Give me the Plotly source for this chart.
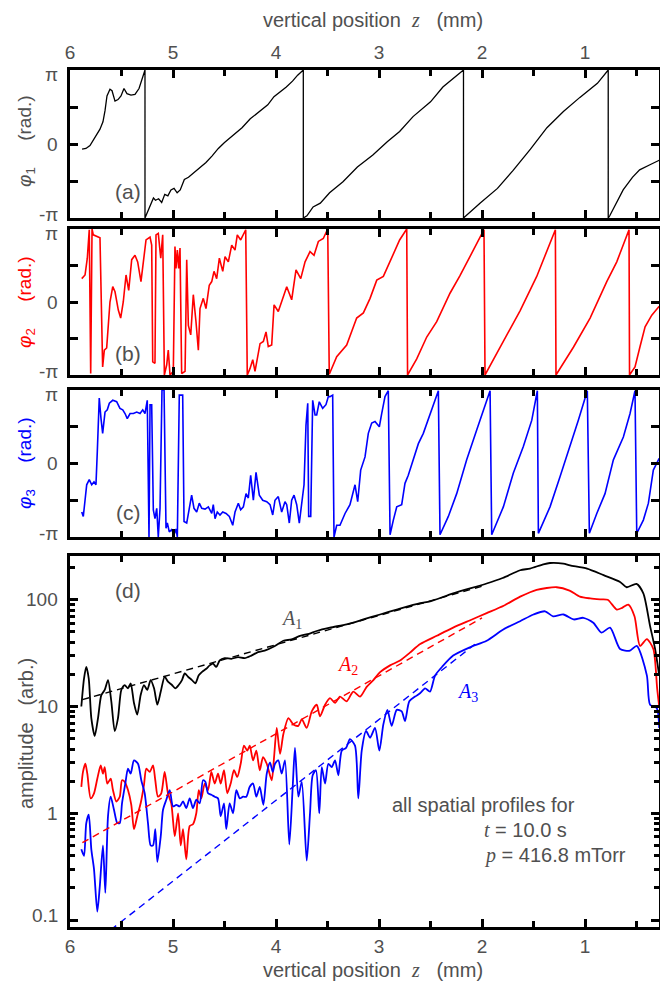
import numpy as np
import plotly.graph_objects as go

# ---------------- data (z in mm, phase in units of pi, amplitude in arb.) ----------------
phi1_pts = [
    (5.883, -0.07), (5.845, -0.06), (5.806, -0.02), (5.757, 0.10), (5.709, 0.20), (5.680, 0.30),
    (5.660, 0.45), (5.641, 0.65), (5.612, 0.74), (5.592, 0.72), (5.563, 0.58), (5.534, 0.60),
    (5.505, 0.65), (5.476, 0.75), (5.447, 0.68), (5.408, 0.66), (5.369, 0.67), (5.330, 0.75),
    (5.272, 1.00),
    (5.272, -1.00), (5.25, -0.93), (5.22, -0.82), (5.19, -0.73), (5.17, -0.76), (5.14, -0.74),
    (5.11, -0.79), (5.08, -0.68), (5.05, -0.70), (5.02, -0.62), (4.99, -0.60), (4.96, -0.66),
    (4.93, -0.62), (4.89, -0.48), (4.85, -0.45), (4.79, -0.38), (4.74, -0.33), (4.68, -0.25),
    (4.62, -0.16), (4.56, -0.06), (4.50, 0.02), (4.45, 0.08), (4.40, 0.14), (4.33, 0.22),
    (4.25, 0.34), (4.19, 0.41), (4.14, 0.47), (4.08, 0.53), (4.02, 0.64), (3.96, 0.70),
    (3.90, 0.77), (3.84, 0.85), (3.79, 0.93), (3.735, 1.00),
    (3.735, -1.00), (3.70, -0.97), (3.64, -0.85), (3.57, -0.80), (3.48, -0.66), (3.35, -0.51),
    (3.21, -0.31), (3.06, -0.15), (2.92, 0.03), (2.80, 0.17), (2.67, 0.37), (2.50, 0.57),
    (2.38, 0.77), (2.18, 1.00),
    (2.18, -1.00), (2.02, -0.80), (1.85, -0.60), (1.70, -0.36), (1.53, -0.07), (1.37, 0.22),
    (1.21, 0.44), (1.05, 0.63), (0.88, 0.82), (0.775, 1.00),
    (0.775, -1.00), (0.76, -0.97), (0.63, -0.62), (0.54, -0.45), (0.47, -0.35), (0.37, -0.28),
    (0.28, -0.22),
]

phi2_pts = [
    (5.886, 0.32), (5.854, 0.37), (5.832, 0.60), (5.813, 0.99), (5.799, -0.98), (5.786, 1.00),
    (5.774, 0.92), (5.709, 0.88), (5.683, -0.89), (5.667, -0.66), (5.644, -0.63), (5.612, 0.00),
    (5.585, 0.21), (5.563, 0.14), (5.531, -0.11), (5.508, -0.22), (5.483, 0.00), (5.456, 0.37),
    (5.430, 0.16), (5.401, 0.58), (5.369, 0.64), (5.343, 0.55), (5.311, 0.28), (5.288, 0.55),
    (5.262, 0.85), (5.223, 0.89), (5.207, 0.78), (5.197, -0.82), (5.175, -0.84), (5.165, 0.92),
    (5.143, 0.94), (5.119, 0.60), (5.100, 0.92), (5.084, -1.00), (5.061, -0.86), (5.046, -0.66),
    (5.029, -1.00), (4.997, -0.95), (4.981, 0.76), (4.971, 0.46), (4.958, 0.71), (4.945, 0.46),
    (4.932, 0.74), (4.916, -0.98), (4.883, -0.95), (4.867, 0.58), (4.851, -0.32), (4.828, -0.45),
    (4.803, 0.10), (4.777, -0.27), (4.754, -0.66), (4.738, -0.09), (4.706, 0.05), (4.680, -0.09),
    (4.648, 0.23), (4.624, 0.28), (4.602, 0.42), (4.576, 0.32), (4.550, 0.60), (4.517, 0.42),
    (4.495, 0.62), (4.463, 0.55), (4.430, 0.78), (4.398, 0.71), (4.376, 0.92), (4.343, 0.85),
    (4.294, 0.99), (4.279, -1.00), (4.252, -0.91), (4.226, -0.79), (4.204, -0.95), (4.155, -0.57),
    (4.123, -0.54), (4.097, -0.41), (4.075, -0.61), (4.042, -0.59), (4.019, -0.04), (3.978, -0.13),
    (3.945, 0.00), (3.896, 0.21), (3.848, 0.03), (3.806, 0.44), (3.760, 0.32), (3.718, 0.55),
    (3.670, 0.69), (3.631, 0.64), (3.589, 0.83), (3.541, 0.87), (3.498, 1.00), (3.483, -0.99),
    (3.411, -0.75), (3.314, -0.59), (3.217, -0.22), (3.152, -0.15), (3.087, 0.05), (3.022, 0.30),
    (2.958, 0.35), (2.893, 0.55), (2.80, 0.85), (2.731, 1.00), (2.723, -1.00), (2.634, -0.78),
    (2.537, -0.48), (2.440, -0.27), (2.311, 0.12), (2.214, 0.36), (2.117, 0.62), (1.981, 0.99),
    (1.971, -1.00), (1.793, -0.55), (1.631, -0.12), (1.469, 0.35), (1.288, 0.99), (1.282, -1.00),
    (1.113, -0.62), (0.951, -0.22), (0.789, 0.28), (0.692, 0.55), (0.595, 0.90), (0.573, 0.99),
    (0.568, -1.00), (0.515, -0.89), (0.466, -0.61), (0.417, -0.34), (0.352, -0.18), (0.28, -0.06),
]

phi3_pts = [
    (5.886, -0.66), (5.871, -0.72), (5.854, -0.50), (5.838, -0.29), (5.813, -0.22), (5.789, -0.29),
    (5.767, -0.25), (5.748, -0.29), (5.735, 0.16), (5.716, 0.89), (5.699, 0.61), (5.683, 0.41),
    (5.660, 0.70), (5.638, 0.73), (5.618, 0.82), (5.585, 0.86), (5.547, 0.84), (5.515, 0.75),
    (5.488, 0.73), (5.466, 0.68), (5.444, 0.61), (5.417, 0.68), (5.385, 0.68), (5.352, 0.70),
    (5.320, 0.68), (5.294, 0.73), (5.272, 0.68), (5.250, 0.86), (5.233, -1.00), (5.223, 0.80),
    (5.207, 0.80), (5.191, -0.63), (5.175, -0.75), (5.158, -0.61), (5.143, -1.00), (5.126, -0.61),
    (5.107, 1.00), (5.087, 1.00), (5.068, -0.88), (5.055, -0.81), (5.036, -0.93), (5.013, -0.90),
    (4.990, -0.97), (4.971, -0.89), (4.958, -1.00), (4.939, 0.93), (4.906, 0.93), (4.893, -0.79),
    (4.867, -0.81), (4.842, -0.63), (4.819, -0.43), (4.796, -0.61), (4.770, -0.66), (4.745, -0.54),
    (4.721, -0.61), (4.689, -0.62), (4.657, -0.59), (4.624, -0.68), (4.609, -0.56), (4.592, -0.75),
    (4.570, -0.66), (4.544, -0.70), (4.517, -0.66), (4.485, -0.68), (4.453, -0.72), (4.420, -0.84),
    (4.398, -0.66), (4.366, -0.54), (4.343, -0.63), (4.317, -0.59), (4.291, -0.41), (4.269, -0.47),
    (4.246, -0.16), (4.220, -0.50), (4.194, -0.12), (4.162, -0.43), (4.129, -0.50), (4.090, -0.52),
    (4.058, -0.56), (4.032, -0.70), (4.010, -0.50), (3.978, -0.45), (3.945, -0.66), (3.913, -0.52),
    (3.896, -0.56), (3.871, -0.81), (3.848, -0.50), (3.825, -0.43), (3.799, -0.56), (3.774, -0.81),
    (3.750, -0.50), (3.728, -0.29), (3.709, 0.52), (3.692, 0.82), (3.683, -0.72), (3.663, -0.72),
    (3.644, 0.86), (3.621, 0.66), (3.605, 0.66), (3.580, 0.84), (3.547, 0.75), (3.515, 0.80),
    (3.492, 0.91), (3.476, 0.91), (3.450, 0.93), (3.437, -1.00), (3.411, -0.84), (3.379, -0.84),
    (3.330, -0.68), (3.282, -0.56), (3.233, -0.29), (3.207, -0.52), (3.178, -0.09), (3.136, 0.09),
    (3.104, 0.41), (3.071, 0.55), (3.039, 0.57), (2.997, 0.50), (2.974, 0.68), (2.942, 0.91),
    (2.910, 0.99), (2.893, -0.97), (2.861, -0.77), (2.828, -0.59), (2.780, -0.56), (2.748, -0.27),
    (2.716, -0.16), (2.667, 0.05), (2.618, 0.27), (2.570, 0.41), (2.505, 0.66), (2.447, 0.91),
    (2.424, 0.99), (2.408, -0.97), (2.327, -0.72), (2.246, -0.41), (2.149, 0.05), (2.051, 0.46),
    (1.971, 0.77), (1.922, 0.99), (1.906, -0.97), (1.793, -0.59), (1.696, -0.13), (1.599, 0.23),
    (1.517, 0.59), (1.463, 0.99), (1.453, -0.95), (1.340, -0.59), (1.243, -0.18), (1.146, 0.23),
    (1.065, 0.59), (0.978, 0.99), (0.958, -0.95), (0.886, -0.68), (0.806, -0.41), (0.725, 0.05),
    (0.628, 0.36), (0.563, 0.68), (0.515, 0.99), (0.498, -0.95), (0.434, -0.77), (0.385, -0.54),
    (0.337, -0.09), (0.28, 0.07),
]

A1_pts = [
    (5.890, 10.0), (5.864, 18.3), (5.842, 23.5), (5.818, 18.3), (5.793, 7.8), (5.760, 5.3),
    (5.728, 7.8), (5.696, 12.8), (5.663, 14.3), (5.631, 17.7), (5.599, 11.2), (5.566, 5.9),
    (5.534, 7.8), (5.502, 14.3), (5.469, 15.9), (5.437, 14.8), (5.411, 16.5), (5.379, 10.8),
    (5.347, 8.4), (5.314, 12.8), (5.282, 15.9), (5.250, 14.3), (5.217, 17.7), (5.184, 14.8),
    (5.152, 10.4), (5.119, 13.8), (5.081, 19.0), (5.049, 17.1), (5.010, 15.9), (4.978, 14.8),
    (4.945, 15.9), (4.913, 17.7), (4.886, 20.4), (4.854, 19.0), (4.816, 17.7), (4.783, 16.5),
    (4.750, 19.6), (4.718, 21.1), (4.677, 22.6), (4.644, 24.3), (4.612, 25.2), (4.580, 23.5),
    (4.547, 27.0), (4.498, 28.4), (4.434, 28.0), (4.369, 29.0), (4.304, 28.4), (4.240, 30.0),
    (4.175, 32.3), (4.110, 33.4), (4.02, 36.5), (3.929, 41.3), (3.85, 42.5), (3.767, 45.9),
    (3.68, 48.0), (3.605, 51.0), (3.476, 54.8), (3.314, 58.9), (3.152, 65.4), (2.990, 72.8),
    (2.828, 80.9), (2.60, 93.0), (2.505, 96.5), (2.28, 115), (1.955, 142), (1.80, 160),
    (1.63, 189), (1.534, 196), (1.405, 215), (1.34, 221), (1.211, 218), (1.146, 210),
    (0.98, 196), (0.82, 170), (0.66, 147), (0.595, 131), (0.50, 141), (0.434, 115),
    (0.369, 57), (0.32, 34.6), (0.28, 19.6),
]

A2_pts = [
    (5.890, 1.77), (5.874, 2.44), (5.851, 2.91), (5.832, 2.35), (5.799, 1.38), (5.767, 1.54),
    (5.735, 2.11), (5.702, 2.81), (5.680, 2.35), (5.663, 2.71), (5.638, 1.90), (5.605, 2.11),
    (5.583, 1.65), (5.550, 1.29), (5.517, 1.43), (5.495, 2.04), (5.469, 1.97), (5.437, 1.65),
    (5.405, 1.20), (5.379, 0.71), (5.347, 0.94), (5.314, 1.24), (5.282, 1.84), (5.259, 2.62),
    (5.226, 2.44), (5.194, 2.81), (5.172, 2.04), (5.146, 1.43), (5.114, 1.54), (5.081, 2.44),
    (5.049, 1.54), (5.017, 1.24), (4.983, 0.61), (4.951, 1.00), (4.925, 0.50), (4.903, 0.71),
    (4.871, 0.37), (4.838, 0.76), (4.806, 0.79), (4.774, 1.00), (4.750, 1.65), (4.725, 1.38),
    (4.692, 1.90), (4.660, 1.65), (4.628, 2.44), (4.595, 1.90), (4.563, 2.35), (4.537, 1.90),
    (4.505, 2.53), (4.473, 1.54), (4.440, 1.90), (4.408, 2.53), (4.376, 2.19), (4.343, 2.91),
    (4.311, 4.30), (4.279, 3.86), (4.255, 4.30), (4.223, 3.13), (4.191, 3.86), (4.158, 2.53),
    (4.126, 3.35), (4.090, 2.91), (4.042, 2.04), (4.019, 3.35), (3.993, 6.3), (3.961, 3.6),
    (3.929, 5.5), (3.880, 7.8), (3.832, 6.8), (3.783, 6.6), (3.750, 7.6), (3.702, 6.3),
    (3.653, 9.0), (3.605, 10.4), (3.573, 8.1), (3.524, 10.4), (3.476, 12.0), (3.427, 10.8),
    (3.379, 12.4), (3.314, 11.2), (3.250, 13.8), (3.184, 12.4), (3.120, 15.3), (3.055, 17.7),
    (2.990, 21.0), (2.893, 24.3), (2.796, 27.0), (2.70, 32.0), (2.60, 38.5), (2.44, 46.0),
    (2.28, 54.8), (2.12, 64.0), (1.955, 75.0), (1.79, 88.0), (1.63, 107), (1.47, 124),
    (1.275, 131), (1.15, 122), (1.05, 107), (0.95, 103), (0.854, 101), (0.78, 100),
    (0.692, 81), (0.64, 84), (0.58, 90), (0.52, 70), (0.466, 37), (0.40, 42.8),
    (0.337, 34.6), (0.30, 14.8), (0.28, 10.0),
]

A3_pts = [
    (5.890, 0.46), (5.864, 0.40), (5.842, 0.81), (5.818, 0.97), (5.793, 0.46), (5.767, 0.30),
    (5.735, 0.12), (5.712, 0.20), (5.680, 0.50), (5.657, 0.18), (5.631, 0.94), (5.605, 1.43),
    (5.573, 1.08), (5.541, 0.81), (5.517, 0.81), (5.495, 1.24), (5.463, 1.90), (5.437, 2.62),
    (5.411, 2.35), (5.379, 3.13), (5.340, 2.91), (5.308, 2.04), (5.275, 1.54), (5.243, 0.81),
    (5.217, 0.50), (5.194, 0.50), (5.172, 0.71), (5.152, 0.35), (5.119, 0.61), (5.097, 1.08),
    (5.065, 1.34), (5.032, 1.65), (5.000, 1.16), (4.968, 1.20), (4.935, 1.16), (4.903, 1.29),
    (4.871, 1.12), (4.838, 1.38), (4.806, 1.12), (4.774, 1.34), (4.741, 1.24), (4.709, 2.04),
    (4.686, 1.97), (4.660, 1.54), (4.628, 1.49), (4.595, 1.43), (4.563, 1.38), (4.537, 0.94),
    (4.505, 1.24), (4.483, 0.71), (4.450, 1.24), (4.417, 1.00), (4.385, 1.65), (4.352, 1.38),
    (4.320, 1.43), (4.288, 1.43), (4.255, 1.77), (4.223, 1.90), (4.191, 1.43), (4.158, 1.77),
    (4.123, 1.20), (4.090, 2.35), (4.058, 3.00), (4.032, 2.44), (4.010, 2.91), (3.978, 3.13),
    (3.945, 2.35), (3.913, 3.13), (3.871, 0.51), (3.838, 1.77), (3.816, 4.10), (3.783, 1.43),
    (3.750, 1.97), (3.702, 0.36), (3.670, 1.00), (3.644, 2.27), (3.612, 2.53), (3.580, 1.00),
    (3.556, 2.71), (3.524, 1.90), (3.492, 2.91), (3.459, 2.71), (3.427, 3.13), (3.395, 2.27),
    (3.362, 3.86), (3.320, 4.10), (3.282, 4.94), (3.233, 4.30), (3.201, 1.38), (3.168, 3.86),
    (3.126, 5.9), (3.087, 5.1), (3.039, 6.3), (2.997, 3.86), (2.958, 6.8), (2.919, 9.3),
    (2.877, 6.6), (2.828, 9.3), (2.780, 9.0), (2.748, 7.3), (2.706, 11.2), (2.650, 12.4),
    (2.602, 13.3), (2.553, 14.8), (2.505, 13.8), (2.456, 19.5), (2.38, 24.0), (2.28, 30.0),
    (2.117, 35.9), (1.955, 41.3), (1.79, 52.9), (1.63, 63.0), (1.50, 72.8), (1.388, 78.0),
    (1.31, 70.0), (1.21, 72.8), (1.11, 65.4), (1.017, 67.8), (0.92, 61.0), (0.84, 49.3),
    (0.757, 54.8), (0.66, 34.6), (0.563, 33.4), (0.498, 37.0), (0.40, 19.6), (0.369, 10.4),
    (0.304, 9.7), (0.28, 6.3),
]

# straight-line (exponential) fits, end points
fit1_z, fit1_A = [5.88, 2.00], [11.6, 134.0]
fit2_z, fit2_A = [5.88, 2.00], [0.53, 67.6]
fit3_z, fit3_A = [5.88, 2.05], [0.05, 39.6]

z_ticks = [1, 2, 3, 4, 5, 6]
z_minor = [0.5, 1.5, 2.5, 3.5, 4.5, 5.5]
phase_ticks_pi = [-1, -0.5, 0, 0.5, 1]
phase_labels = [(1, 'π'), (0, '0'), (-1, '-π')]
amp_ticks = [0.1, 1, 10, 100]
amp_ticktext = ['0.1', '1', '10', '100']
amp_minor = [0.2, 0.3, 0.4, 0.5, 0.6, 0.7, 0.8, 0.9, 2, 3, 4, 5, 6, 7, 8, 9,
             20, 30, 40, 50, 60, 70, 80, 90, 200]


def unzip(pts):
    return [p[0] for p in pts], [p[1] for p in pts]


PI = np.pi
GRAY = '#505050'
RED = '#ff0000'
BLUE = '#0000ff'
FONT = 'Liberation Sans, Arial, sans-serif'
SERIF = 'Liberation Serif, Times New Roman, serif'
SP = '\u00a0'

fig = go.Figure()

for pts, col, ax, w in [(phi1_pts, 'black', ('x', 'y'), 1.3),
                        (phi2_pts, RED, ('x2', 'y2'), 1.6),
                        (phi3_pts, BLUE, ('x3', 'y3'), 1.6)]:
    z, p = unzip(pts)
    fig.add_trace(go.Scatter(x=z, y=np.array(p) * PI, mode='lines', xaxis=ax[0], yaxis=ax[1],
                             line=dict(color=col, width=w), showlegend=False))

for pts, col in [(A1_pts, 'black'), (A2_pts, RED), (A3_pts, BLUE)]:
    z, a = unzip(pts)
    fig.add_trace(go.Scatter(x=z, y=a, mode='lines', xaxis='x4', yaxis='y4',
                             line=dict(color=col, width=1.8, shape='spline', smoothing=0.7),
                             showlegend=False))

for fz, fa, col in [(fit1_z, fit1_A, 'black'), (fit2_z, fit2_A, RED), (fit3_z, fit3_A, BLUE)]:
    fig.add_trace(go.Scatter(x=fz, y=fa, mode='lines', xaxis='x4', yaxis='y4',
                             line=dict(color=col, width=1.4, dash='7px,5px'), showlegend=False))

# ---------------- layout ----------------
W, H = 660, 983
ML, MR, MT, MB = 70, 1, 70, 56
PH = H - MT - MB


def ydom(top_px, bot_px):
    return [(H - MB - bot_px) / PH, (H - MB - top_px) / PH]


def xaxis(anchor, side, labels):
    return dict(range=[6, 0.282], domain=[0, 1], anchor=anchor, side=side,
                showline=True, linewidth=3, linecolor='black', mirror='ticks',
                ticks='inside', ticklen=8, tickwidth=3, tickcolor='black',
                tickvals=z_ticks, showticklabels=labels,
                tickfont=dict(family=FONT, size=19, color=GRAY),
                minor=dict(tickvals=z_minor, ticks='inside', ticklen=6, tickwidth=2.5,
                           tickcolor='black', showgrid=False),
                showgrid=False, zeroline=False, automargin=False)


def phase_yaxis(anchor, dom):
    return dict(range=[-PI, PI], domain=dom, anchor=anchor,
                showline=True, linewidth=3, linecolor='black', mirror='ticks',
                ticks='inside', ticklen=8, tickwidth=3, tickcolor='black',
                tickvals=[v * PI for v in phase_ticks_pi], showticklabels=False,
                showgrid=False, zeroline=False, automargin=False)


fig.update_layout(
    width=W, height=H,
    margin=dict(l=ML, r=MR, t=MT, b=MB),
    paper_bgcolor='white', plot_bgcolor='white',
    font=dict(family=FONT, color=GRAY, size=20),
    showlegend=False,
    xaxis=xaxis('y', 'top', True),
    xaxis2=xaxis('y2', 'bottom', False),
    xaxis3=xaxis('y3', 'bottom', False),
    xaxis4=xaxis('y4', 'bottom', True),
    yaxis=phase_yaxis('x', ydom(70, 218)),
    yaxis2=phase_yaxis('x2', ydom(229, 375)),
    yaxis3=phase_yaxis('x3', ydom(390, 537)),
    yaxis4=dict(type='log', range=[-1.065, 2.41], domain=ydom(556, 927), anchor='x4',
                showline=True, linewidth=2.5, linecolor='black', mirror='ticks',
                ticks='inside', ticklen=8, tickwidth=3, tickcolor='black',
                tickvals=amp_ticks, showticklabels=False,
                minor=dict(tickvals=amp_minor, ticks='inside', ticklen=5, tickwidth=2.5,
                           tickcolor='black', showgrid=False),
                showgrid=False, zeroline=False, automargin=False),
)

ztitle = ('vertical position' + SP * 2 + '<span style="font-family:%s"><i>z</i></span>' % SERIF
          + SP * 3 + '(mm)')


def py(pix):
    return (H - MB - pix) / PH


def px(pix):
    return (pix - ML) / (W - ML - MR)


def label(text, x, y, color=GRAY, size=20, family=None, angle=0, xanchor='center'):
    f = dict(size=size, color=color)
    if family:
        f['family'] = family
    return dict(text=text, x=px(x), y=py(y), xref='paper', yref='paper', showarrow=False,
                xanchor=xanchor, yanchor='middle', textangle=angle, font=f)


def phtitle(n):
    return '<i>φ</i><sub>%d</sub>' % n + SP * 5 + '(rad.)'


ann = [
    label(ztitle, 373, 20),
    label(ztitle, 373, 970),
    label(phtitle(1), 26, 141, size=19, angle=-90),
    label(phtitle(2), 26, 302, color=RED, size=19, angle=-90),
    label(phtitle(3), 26, 463, color=BLUE, size=19, angle=-90),
    label('amplitude' + SP * 3 + '(arb.)', 26, 734, angle=-90),
    label('(a)', 128, 192, size=21),
    label('(b)', 128, 353, size=21),
    label('(c)', 128, 512, size=21),
    label('(d)', 128, 590, size=21),
    label('<i>A</i><sub>1</sub>', 291, 619, size=20, family=SERIF),
    label('<i>A</i><sub>2</sub>', 347, 665, color=RED, size=20, family=SERIF),
    label('<i>A</i><sub>3</sub>', 467, 692, color=BLUE, size=20, family=SERIF),
    label('all spatial profiles for', 390, 805, xanchor='left'),
    label('<span style="font-family:%s"><i>t</i></span> = 10.0 s' % SERIF, 482, 830,
          xanchor='left'),
    label('<span style="font-family:%s"><i>p</i></span> = 416.8 mTorr' % SERIF, 482, 855,
          xanchor='left'),
]

# y tick labels of the phase panels, nudged inward at the frame edges
for yname in ['y', 'y2', 'y3']:
    for val, txt in phase_labels:
        ann.append(dict(text=txt, x=px(60), xref='paper', y=val * PI, yref=yname,
                        xanchor='right', yanchor='middle', showarrow=False,
                        yshift=-4 * val, font=dict(family=FONT, size=19, color=GRAY)))
# y tick labels of the amplitude panel
for val, txt in zip(amp_ticks, amp_ticktext):
    ann.append(dict(text=txt, x=px(60), xref='paper', y=np.log10(val), yref='y4',
                    xanchor='right', yanchor='middle', showarrow=False,
                    yshift=5 if val == 0.1 else 0,
                    font=dict(family=FONT, size=19, color=GRAY)))

fig.update_layout(annotations=ann)

fig.write_html('out.html', config={'displayModeBar': False},
               post_script="document.body.style.margin='0px';")
